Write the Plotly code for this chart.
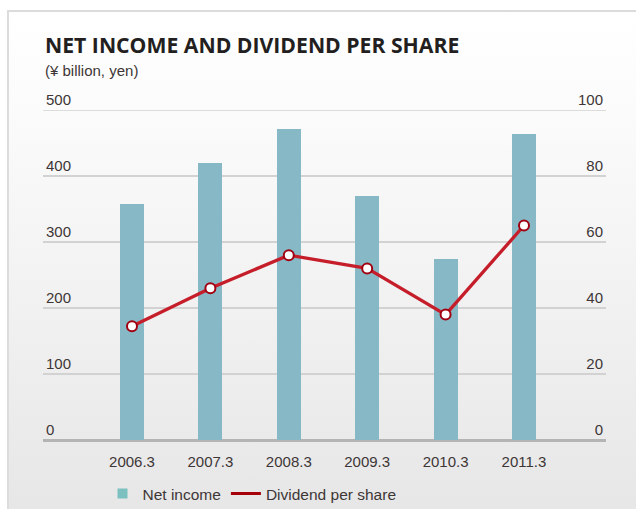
import base64
import plotly.graph_objects as go

categories = ["2006.3", "2007.3", "2008.3", "2009.3", "2010.3", "2011.3"]
net_income = [357, 419, 471, 369, 275, 463]
dividend = [34.5, 46, 56, 52, 38, 65]
left_ticks = [0, 100, 200, 300, 400, 500]
right_ticks = [0, 20, 40, 60, 80, 100]

W, H = 636, 509
L, R, T, B = 43, 30, 110, 69

TXT = "#3e3636"
FONT = "Liberation Sans, Arial, sans-serif"

svg = (
    '<svg xmlns="http://www.w3.org/2000/svg" width="636" height="509" viewBox="0 0 636 509" preserveAspectRatio="none">'
    '<defs><linearGradient id="g" x1="0" y1="0" x2="0" y2="1">'
    '<stop offset="0" stop-color="#ffffff"/><stop offset="0.2" stop-color="#fbfbfb"/>'
    '<stop offset="1" stop-color="#e6e6e6"/></linearGradient></defs>'
    '<rect x="0" y="0" width="636" height="509" fill="#ffffff"/>'
    '<rect x="8" y="11" width="640" height="510" fill="url(#g)" stroke="#dcdcdc" stroke-width="2"/>'
    '</svg>'
)
src = "data:image/svg+xml;base64," + base64.b64encode(svg.encode()).decode()

fig = go.Figure()
fig.add_trace(go.Bar(
    x=categories, y=net_income, name="Net income",
    marker=dict(color="#87b8c6", line=dict(width=0)),
    width=0.306, showlegend=False, yaxis="y",
))
fig.add_trace(go.Scatter(
    x=categories, y=dividend, name="Dividend per share", mode="lines+markers",
    line=dict(color="#c51e2a", width=3.3),
    marker=dict(size=10, color="white", line=dict(color="#a00010", width=2)),
    showlegend=False, yaxis="y2",
))
# legend entries
fig.add_trace(go.Scatter(
    x=[None], y=[None], name="Net income", mode="markers",
    marker=dict(symbol="square", size=10, color="#7cc0bf"),
))
fig.add_trace(go.Scatter(
    x=[None], y=[None], name="Dividend per share", mode="lines",
    line=dict(color="#a80008", width=3),
))

fig.update_layout(
    width=W, height=H,
    margin=dict(l=L, r=R, t=T, b=B, pad=0, autoexpand=False),
    paper_bgcolor="rgba(0,0,0,0)",
    plot_bgcolor="rgba(0,0,0,0)",
    font=dict(family=FONT, color=TXT, size=15),
    bargap=0,
    images=[dict(source=src, xref="paper", yref="paper", x=-L / (W - L - R), y=1 + T / (H - T - B),
                 sizex=W / (W - L - R), sizey=H / (H - T - B), xanchor="left", yanchor="top",
                 sizing="stretch", layer="below")],
    shapes=[dict(type="line", xref="paper", x0=0, x1=1, yref="y", y0=500, y1=500,
                 line=dict(color="#d2d2d2", width=1.5), layer="below")],
    xaxis=dict(
        type="category", range=[-1.135, 6.046], automargin=False,
        showgrid=False, showline=False, zeroline=False,
        ticks="outside", ticklen=8, tickcolor="rgba(0,0,0,0)",
        tickfont=dict(size=15, color=TXT),
    ),
    yaxis=dict(
        range=[0, 500], tickvals=left_ticks, automargin=False,
        showgrid=True, gridcolor="#d2d2d2", gridwidth=1.5,
        zeroline=True, zerolinecolor="#b4b4b4", zerolinewidth=2.5,
        showline=False, ticks="", ticklabelposition="inside top",
        ticklabeloverflow="allow",
        tickfont=dict(size=15, color=TXT),
    ),
    yaxis2=dict(
        range=[0, 100], tickvals=right_ticks, overlaying="y", side="right",
        automargin=False,
        showgrid=False, zeroline=False, showline=False, ticks="",
        ticklabelposition="inside top", ticklabeloverflow="allow",
        tickfont=dict(size=15, color=TXT),
    ),
    legend=dict(
        orientation="h", xref="container", x=252 / W, xanchor="center",
        yref="container", y=1 - 494 / H, yanchor="middle",
        font=dict(size=15.5, color=TXT), bgcolor="rgba(0,0,0,0)",
        itemwidth=30, tracegroupgap=0,
    ),
    annotations=[
        dict(text="<b>NET INCOME AND DIVIDEND PER SHARE</b>", xref="paper", yref="paper",
             x=0, y=1 + (110 - 44) / (H - T - B), xanchor="left", yanchor="middle",
             showarrow=False, font=dict(family="Open Sans, sans-serif", size=21.2, color="#231f20")),
        dict(text="(¥ billion, yen)", xref="paper", yref="paper",
             x=0, y=1 + (110 - 70) / (H - T - B), xanchor="left", yanchor="middle",
             showarrow=False, font=dict(family=FONT, size=15, color=TXT)),
    ],
)

fig.write_html("out.html", config={"displayModeBar": False},
               post_script="document.body.style.margin='0';")
